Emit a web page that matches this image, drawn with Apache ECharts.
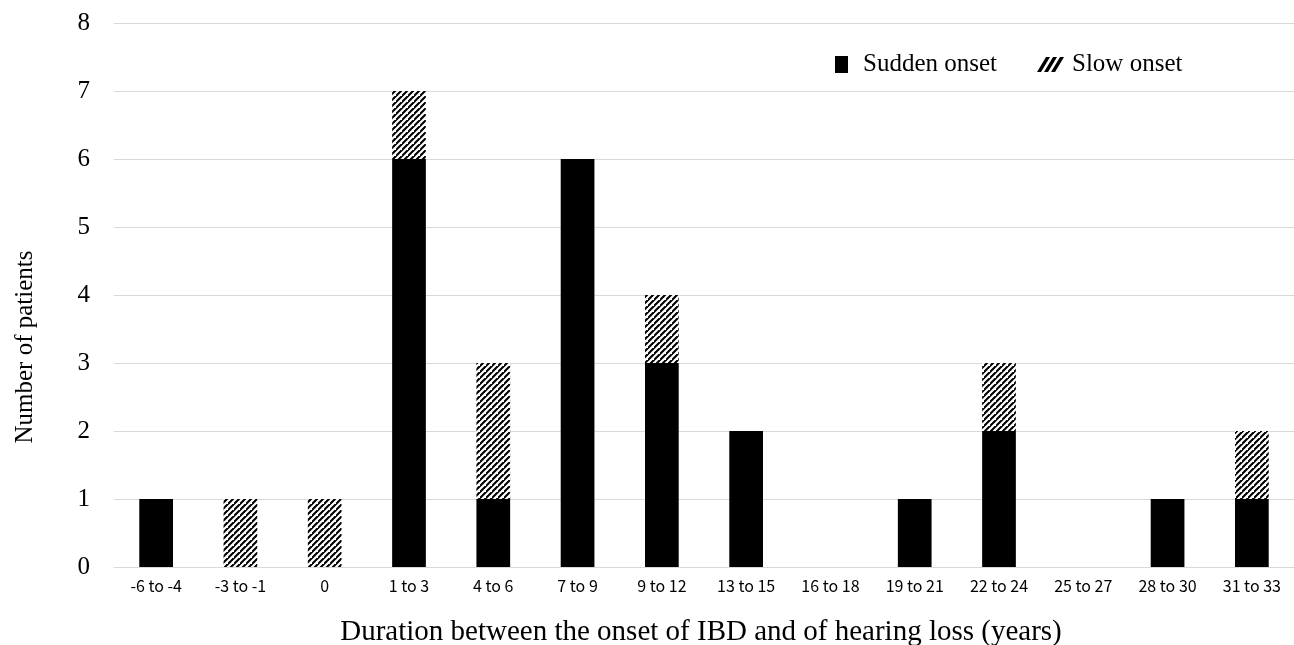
<!DOCTYPE html>
<html><head><meta charset="utf-8">
<script src="https://cdn.jsdelivr.net/npm/echarts@6/dist/echarts.min.js"></script>
<style>html,body{margin:0;padding:0;background:#fff}#c{width:1294px;height:645px}</style>
</head><body><div id="c"></div>
<script>
const categories = ['-6 to -4','-3 to -1','0','1 to 3','4 to 6','7 to 9','9 to 12','13 to 15','16 to 18','19 to 21','22 to 24','25 to 27','28 to 30','31 to 33'];
const suddenOnset = [1,0,0,6,1,6,3,2,0,1,2,0,1,1];
const slowOnset = [0,1,1,1,2,0,1,0,0,0,1,0,0,1];
const yTicks = [0,1,2,3,4,5,6,7,8];

function hatch(){
  const s = 6;
  const c = document.createElement('canvas');
  c.width = s; c.height = s;
  const g = c.getContext('2d');
  g.fillStyle = '#fff'; g.fillRect(0,0,s,s);
  g.strokeStyle = '#000'; g.lineWidth = 2.1;
  g.beginPath();
  g.moveTo(-1, s+1); g.lineTo(s+1, -1);
  g.moveTo(-s-1, s+1); g.lineTo(1, -1);
  g.moveTo(s-1, 2*s+1); g.lineTo(2*s+1, s-1);
  g.stroke();
  return c;
}
const hatchPattern = {image: hatch(), repeat: 'repeat'};

const chart = echarts.init(document.getElementById('c'), null, {renderer:'canvas'});
chart.setOption({
  animation:false,
  backgroundColor:'#fff',
  grid:{left:114, right:0, top:23, bottom:78, containLabel:false, outerBoundsMode:'none'},
  legend:{
    left:835, top:52, itemWidth:27, itemHeight:17, itemGap:40, padding:0,
    textStyle:{fontFamily:'Liberation Serif', fontSize:25, color:'#000', padding:[0,0,0,3]},
    data:[
      {name:'Sudden onset', icon:'path://M0,0h13v17h-13z', itemStyle:{color:'#000'}},
      {name:'Slow onset', icon:'path://M0,15L4,15L13,0L9,0ZM7,15L11,15L20,0L16,0ZM14,15L18,15L27,0L23,0Z', itemStyle:{color:'#000'}}
    ]
  },
  xAxis:{
    type:'category', data:categories,
    axisLine:{lineStyle:{color:'#d9d9d9'}},
    axisTick:{show:false},
    axisLabel:{fontFamily:'Noto Sans CJK JP', fontSize:16, color:'#000', margin:11, interval:0}
  },
  yAxis:{
    type:'value', min:0, max:8, interval:1,
    axisLine:{show:false}, axisTick:{show:false},
    splitLine:{lineStyle:{color:'#d9d9d9'}},
    axisLabel:{fontFamily:'Liberation Serif', fontSize:25, color:'#000', margin:24,
      formatter:v=>yTicks.includes(v)?String(v):''}
  },
  graphic:[{
    type:'text', x:25, y:347, rotation:Math.PI/2,
    style:{text:'Number of patients', fontFamily:'Liberation Serif', fontSize:25, fill:'#000',
      align:'center', verticalAlign:'middle'}
  },{
    type:'text', x:701, y:632,
    style:{text:'Duration between the onset of IBD and of hearing loss (years)', fontFamily:'Liberation Serif', fontSize:29, fill:'#000',
      align:'center', verticalAlign:'middle'}
  }],
  series:[
    {name:'Sudden onset', type:'bar', stack:'a', data:suddenOnset, barWidth:'40%',
     itemStyle:{color:'#000'}},
    {name:'Slow onset', type:'bar', stack:'a', data:slowOnset, barWidth:'40%',
     itemStyle:{color:hatchPattern}}
  ]
});
</script></body></html>
